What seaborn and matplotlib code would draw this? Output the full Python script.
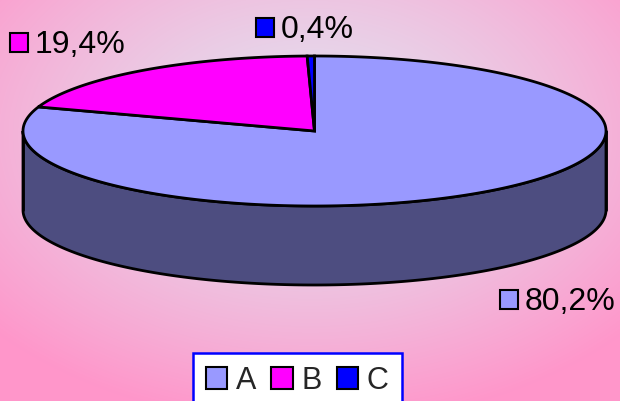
import numpy as np
import matplotlib
matplotlib.use("Agg")
import matplotlib.pyplot as plt
from matplotlib.patches import Polygon, Rectangle
import seaborn as sns

# Shares of the three categories (percent)
categories = ["A", "B", "C"]
shares = [80.2, 19.4, 0.4]
share_labels = ["80,2%", "19,4%", "0,4%"]
top_colors = ["#9999FF", "#FF00FF", "#0000FF"]
side_colors = ["#4D4D80", "#800080", "#000080"]

sns.set_theme(style="white")
plt.rcParams["font.family"] = ["Liberation Sans", "DejaVu Sans"]

W, H = 620, 401
fig = plt.figure(figsize=(W / 100, H / 100), dpi=100)
ax = fig.add_axes([0, 0, 1, 1])
ax.set_xlim(0, W)
ax.set_ylim(H, 0)
ax.axis("off")

# Soft radial background: pale lavender centre fading to pink
yy, xx = np.mgrid[0:H, 0:W]
d = np.sqrt(((xx - 310) / 430.0) ** 2 + ((yy - 135) / 290.0) ** 2)
t = np.clip(d, 0, 1) ** 1.3
c0 = np.array([0xE2, 0xE2, 0xF0]) / 255.0
c1 = np.array([0xFF, 0x96, 0xCA]) / 255.0
bg = c0[None, None, :] * (1 - t[..., None]) + c1[None, None, :] * t[..., None]
ax.imshow(bg, extent=[0, W, H, 0], zorder=0, aspect="auto")

# Pie geometry (tilted disc)
cx, cy, rx, ry, depth = 314.5, 131.0, 291.5, 75.0, 79.0
LW = 2.0


def ell(theta_deg, dy=0.0):
    th = np.radians(theta_deg)
    return cx + rx * np.sin(th), cy - ry * np.cos(th) + dy


total = sum(shares)
bounds = np.concatenate([[0.0], np.cumsum(shares) / total * 360.0])

# Side wall: front half of the disc (90..270 deg clockwise from top)
for i in range(len(shares)):
    a0 = max(bounds[i], 90.0)
    a1 = min(bounds[i + 1], 270.0)
    if a1 <= a0:
        continue
    th = np.linspace(a0, a1, 200)
    xs_t, ys_t = ell(th)
    xs_b, ys_b = ell(th[::-1], depth)
    pts = np.column_stack([np.concatenate([xs_t, xs_b]), np.concatenate([ys_t, ys_b])])
    ax.add_patch(Polygon(pts, closed=True, facecolor=side_colors[i],
                         edgecolor="black", linewidth=LW, zorder=2))

# Vertical edges at the left and right of the wall
for th in (90.0, 270.0):
    x0, y0 = ell(th)
    ax.plot([x0, x0], [y0, y0 + depth], color="black", lw=LW, zorder=3)

# Top face wedges
for i in range(len(shares)):
    th = np.linspace(bounds[i], bounds[i + 1], max(int((bounds[i + 1] - bounds[i]) * 2), 4))
    xs, ys = ell(th)
    pts = np.vstack([[cx, cy], np.column_stack([xs, ys])])
    ax.add_patch(Polygon(pts, closed=True, facecolor=top_colors[i],
                         edgecolor="black", linewidth=LW, joinstyle="miter", zorder=4))

# Data labels with colour keys
label_pos = {0: (500, 309), 1: (10, 52), 2: (256, 37)}
for i, (x0, base) in label_pos.items():
    ax.add_patch(Rectangle((x0, base - 19), 18, 19, facecolor=top_colors[i],
                           edgecolor="black", linewidth=1.5, zorder=5))
    ax.text(x0 + 25, base + 1, share_labels[i], fontsize=23, color="black",
            ha="left", va="baseline", zorder=5)

# Legend
handles = [Rectangle((0, 0), 1, 1, facecolor=c, edgecolor="black", linewidth=1.5)
           for c in top_colors]
leg = ax.legend(handles, categories, loc="upper left",
                bbox_to_anchor=(193 / W, 1 - 353 / H), ncol=3, fontsize=22,
                handlelength=0.7, handleheight=0.7, handletextpad=0.28,
                columnspacing=0.5, borderpad=0.42, borderaxespad=0,
                frameon=True, fancybox=False, framealpha=1)
leg.get_frame().set_edgecolor("#0000FF")
leg.get_frame().set_linewidth(1.8)
leg.get_frame().set_facecolor("white")

fig.savefig("out.png", dpi=100)
